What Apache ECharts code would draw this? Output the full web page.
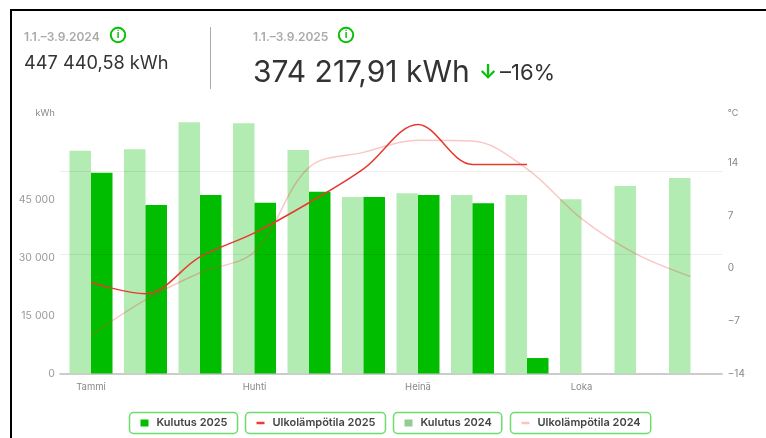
<!DOCTYPE html>
<html>
<head>
<meta charset="utf-8">
<title>Kulutus</title>
<style>
  html, body { margin: 0; padding: 0; background: #fff; }
  #chart { position: absolute; left: 0; top: 0; width: 766px; height: 438px; }
  #frame { position: absolute; left: 10px; top: 9px; right: 0; bottom: 0; border-left: 2px solid #000; border-top: 2px solid #000; pointer-events: none; }
</style>
<script src="https://cdn.jsdelivr.net/npm/echarts@6/dist/echarts.min.js"></script>
</head>
<body>
<div id="chart"></div>
<div id="frame"></div>
<script>
var months = ["Tammi", "Helmi", "Maalis", "Huhti", "Touko", "Kesä", "Heinä", "Elo", "Syys", "Loka", "Marras", "Joulu"];
var kulutus2024 = [57620, 57980, 64960, 64700, 57800, 45640, 46600, 46160, 46160, 45050, 48490, 50560];
var kulutus2025 = [51930, 43570, 46160, 44170, 47010, 45640, 46160, 44010, 4000, null, null, null];
var temp2024 = [-8.9, -4.2, -0.6, 2.2, 13.4, 15.4, 17.0, 16.9, 13.2, 6.6, 1.9, -1.1];
var temp2025 = [-1.9, -3.4, 1.5, 4.7, 8.7, 13.2, 19.1, 13.8, 13.8, null, null, null];
var kwhTicks = [0, 15000, 30000, 45000];
var tempTicks = [-14, -7, 0, 7, 14];
var gridValues = [30830, 52290];

var FONT = "Inter";
var GREEN = "#00bd00";
var LIGHT_GREEN = "#b3ecb3";
var RED = "#e8392f";

function legendBox(name, left, markerColor, markerHeight) {
  return {
    left: left,
    top: 412.5,
    padding: [5, 10, 5, 11],
    borderColor: "#6ddc6d",
    borderWidth: 1.5,
    borderRadius: 4,
    selectedMode: false,
    icon: "rect",
    itemWidth: 8,
    itemHeight: markerHeight,
    itemGap: 0,
    data: [{ name: name, itemStyle: { color: markerColor, opacity: 1 }, lineStyle: { width: 0 } }],
    textStyle: { fontFamily: FONT, fontSize: 11, fontWeight: 600, color: "#444", padding: [0, 0, 0, 3] },
  };
}

function text(str, x, y, size, color, weight) {
  return {
    type: "text",
    x: x,
    y: y,
    style: { text: str, fontFamily: FONT, fontSize: size, fontWeight: weight || 400, fill: color, verticalAlign: "middle" },
  };
}

function infoIcon(x, y) {
  return {
    type: "group",
    x: x,
    y: y,
    children: [
      { type: "circle", shape: { r: 7.2 }, style: { fill: "#fff", stroke: "#0abf0a", lineWidth: 2 } },
      { type: "text", style: { text: "i", x: 0, y: 0, align: "center", verticalAlign: "middle", fontFamily: FONT, fontSize: 10, fontWeight: 700, fill: "#0abf0a" } },
    ],
  };
}

var chart = echarts.init(document.getElementById("chart"), null, { renderer: "canvas" });
chart.setOption({
  animation: false,
  backgroundColor: "#fff",
  grid: [
    { left: 63.75, width: 654, top: 110.25, height: 263.25 },
    { left: 60, width: 662, top: 110.25, height: 263.25 },
  ],
  xAxis: [
    {
      type: "category",
      gridIndex: 0,
      data: months,
      axisLine: { show: false },
      axisTick: { alignWithLabel: true, interval: 2, length: 4, lineStyle: { color: "#aaa" } },
      axisLabel: { interval: 2, fontFamily: FONT, fontSize: 9.5, color: "#888", margin: 9 },
    },
    {
      type: "value",
      gridIndex: 1,
      min: 0,
      max: 1,
      axisLine: { show: true, onZero: false, lineStyle: { color: "#bbb", width: 1.5 } },
      axisTick: { show: false },
      axisLabel: { show: false },
      splitLine: { show: false },
    },
  ],
  yAxis: [
    {
      type: "value",
      gridIndex: 0,
      min: 0,
      max: 68080,
      name: "kWh",
      nameLocation: "end",
      nameGap: -8,
      nameTextStyle: { fontFamily: FONT, fontSize: 9, color: "#888", align: "right", padding: [0, 9, 0, 0] },
      axisLine: { show: false },
      axisTick: { show: false, customValues: kwhTicks },
      axisLabel: {
        customValues: kwhTicks,
        margin: 9,
        fontFamily: FONT,
        fontSize: 10.5,
        color: "#999",
        formatter: function (v) {
          return String(v).replace(/\B(?=(\d{3})+$)/g, " ");
        },
      },
      splitLine: { show: false },
    },
    {
      type: "value",
      gridIndex: 0,
      position: "right",
      min: -14,
      max: 21,
      name: "°C",
      nameLocation: "end",
      nameGap: -8,
      nameTextStyle: { fontFamily: FONT, fontSize: 9, color: "#888", align: "left", padding: [0, 0, 0, 10] },
      axisLine: { show: false },
      axisTick: { show: false, customValues: tempTicks },
      axisLabel: {
        customValues: tempTicks,
        margin: 10,
        fontFamily: FONT,
        fontSize: 10,
        color: "#888",
        formatter: function (v) {
          return String(v).replace("-", "−");
        },
      },
      splitLine: { show: false },
    },
    {
      type: "value",
      gridIndex: 1,
      min: 0,
      max: 68080,
      z: 5,
      axisLine: { show: false },
      axisTick: { show: false, customValues: gridValues },
      axisLabel: { show: false },
      splitLine: { show: true, lineStyle: { color: "rgba(0,0,0,0.07)", width: 1 } },
    },
  ],
  legend: [
    legendBox("Kulutus 2025", 129.5, GREEN, 7),
    legendBox("Ulkolämpötila 2025", 245.5, "#f03a32", 2.5),
    legendBox("Kulutus 2024", 393.5, "#93cc93", 7),
    legendBox("Ulkolämpötila 2024", 510.5, "#ffc4c0", 2.5),
  ],
  series: [
    {
      name: "Kulutus 2024",
      type: "bar",
      xAxisIndex: 0,
      yAxisIndex: 0,
      data: kulutus2024,
      barWidth: 21.5,
      barGap: 0,
      itemStyle: { color: LIGHT_GREEN },
    },
    {
      name: "Kulutus 2025",
      type: "bar",
      xAxisIndex: 0,
      yAxisIndex: 0,
      data: kulutus2025,
      barWidth: 21.5,
      barGap: 0,
      itemStyle: { color: GREEN },
    },
    {
      name: "Ulkolämpötila 2024",
      type: "line",
      xAxisIndex: 0,
      yAxisIndex: 1,
      data: temp2024,
      smooth: 0.35,
      showSymbol: false,
      z: 3,
      lineStyle: { color: RED, width: 1.5, opacity: 0.28 },
      itemStyle: { color: RED },
    },
    {
      name: "Ulkolämpötila 2025",
      type: "line",
      xAxisIndex: 0,
      yAxisIndex: 1,
      data: temp2025,
      smooth: 0.35,
      showSymbol: false,
      connectNulls: false,
      z: 4,
      lineStyle: { color: RED, width: 1.5 },
      itemStyle: { color: RED },
    },
  ],
  graphic: [
    text("1.1.–3.9.2024", 24, 37.5, 12, "#aaa", 600),
    infoIcon(118, 35),
    text("447 440,58 kWh", 24, 64, 18.2, "#333", 400),
    { type: "rect", shape: { x: 210, y: 27, width: 1, height: 62 }, style: { fill: "#aaa" } },
    text("1.1.–3.9.2025", 253, 37.5, 12, "#aaa", 600),
    infoIcon(346, 35),
    text("374 217,91 kWh", 253, 72.5, 30, "#333", 400),
    text("↓", 479, 73, 20, "#0abf0a", 700),
    text("–16%", 500, 73, 22, "#333", 400),
  ],
});
</script>
</body>
</html>
